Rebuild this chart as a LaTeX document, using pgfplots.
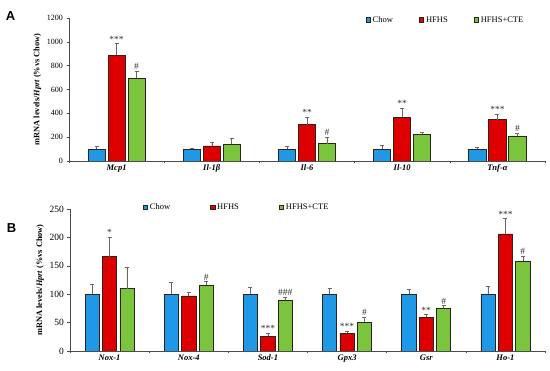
\documentclass[border=0pt]{standalone}
\usepackage{pgfplots}
\pgfplotsset{compat=1.18}
\usepackage{pgfplotstable}
\usepackage{fontspec}
\setmainfont{Liberation Serif}
\newfontfamily\arialfont{Liberation Sans}

\definecolor{chow}{RGB}{32,152,232}
\definecolor{hfhs}{RGB}{222,0,0}
\definecolor{cte}{RGB}{122,196,62}
\definecolor{edge}{RGB}{45,35,25}
\definecolor{errc}{RGB}{110,100,100}

\pgfplotstableread{
x chow chowe hfhs hfhse cte ctee hl cl
0 100 20 889 95 694 61 *** {\#}
1 100 10 126 31 140 50 {} {}
2 100 26 305 61 145 55 ** {\#}
3 100 30 369 73 224 17 ** {}
4 100 17 346 45 210 22 *** {\#}
}\tableA

\pgfplotstableread{
x chow chowe hfhs hfhse cte ctee hl cl
0 100 18 166 34 110 37 * {}
1 100 21 97 7 116 6 {} {\#}
2 100 13 26 6 89 6 *** {\#\#\#}
3 100 11 31 4 51 9 *** {\#}
4 100 9 59 5 75 5 ** {\#}
5 100 14 206 27 158 9 *** {\#}
}\tableB

\pgfplotsset{
  mybars/.style={
    ybar, bar width=0.18,
    scale only axis,
    axis x line=bottom, axis y line=left,
    axis line style={-, draw=black!70, line width=0.6pt},
    ymin=0,
    ytick align=outside,
    tick style={draw=black!70, line width=0.5pt},
    major tick length=2.5pt,
    xtick align=outside,
    xticklabels={},
    extra x tick style={major tick length=0pt},
    /pgf/number format/assume math mode=true,
    /pgf/number format/1000 sep={},
    ylabel={\bfseries mRNA levels/\textit{Hprt} (\%vs Chow)},
    ylabel style={font=\fontsize{8.3}{9}\selectfont, yshift=-1pt},
    x tick label style={font=\fontsize{8.5}{9}\selectfont\bfseries\itshape},
    legend columns=3,
    legend style={draw=none, fill=none, inner sep=0pt,
      font=\fontsize{8.5}{9}\selectfont},
    error bars/y dir=plus, error bars/y explicit,
    error bars/error bar style={draw=errc, line width=0.6pt},
    error bars/error mark options={rotate=90, mark size=2pt, draw=errc, line width=0.6pt},
  },
  sq/.style={legend image code/.code={\draw[##1, draw=edge, line width=0.6pt] (0pt,-2.2pt) rectangle (4.4pt,2.2pt);}},
  ann/.style={forget plot, draw=none, fill=none, bar shift=#1,
    nodes near coords, point meta=explicit symbolic,
    nodes near coords style={font=\fontsize{9.5}{9.5}\selectfont, inner sep=1.2pt, text=black!80}},
}

\begin{document}
\begin{tikzpicture}[x=1pt,y=1pt]
\useasboundingbox (0,0) rectangle (550,371);

\begin{axis}[mybars,
  at={(69pt,210pt)}, anchor=south west,
  width=476pt, height=143pt,
  xmin=-0.5, xmax=4.5, ymax=1200,
  ytick={0,200,...,1200},
  y tick label style={font=\fontsize{8}{9}\selectfont},
  xtick={-0.5,0.5,1.5,2.5,3.5,4.5},
  extra x ticks={0,1,2,3,4},
  extra x tick labels={Mcp1,Il-1β,Il-6,Il-10,Tnf-α},
  legend style={at={(0.623,0.986)}, anchor=west},
  legend style={/tikz/every even column/.append style={column sep=24pt}},
]
\addplot[sq, bar shift=-0.21, fill=chow, draw=edge, line width=0.7pt] table[x=x, y=chow, y error=chowe] {\tableA};
\addplot[sq, bar shift=0, fill=hfhs, draw=edge, line width=0.7pt] table[x=x, y=hfhs, y error=hfhse] {\tableA};
\addplot[sq, bar shift=0.21, fill=cte, draw=edge, line width=0.7pt] table[x=x, y=cte, y error=ctee] {\tableA};
\addplot[ann=0] table[x=x, y expr=\thisrow{hfhs}+\thisrow{hfhse}, meta=hl] {\tableA};
\addplot[ann=0.21] table[x=x, y expr=\thisrow{cte}+\thisrow{ctee}, meta=cl] {\tableA};
\legend{Chow,HFHS,HFHS+CTE}
\end{axis}

\begin{axis}[mybars,
  at={(70pt,20pt)}, anchor=south west,
  width=475pt, height=142pt,
  xmin=-0.5, xmax=5.5, ymax=250,
  ytick={0,50,...,250},
  y tick label style={font=\fontsize{9.5}{10}\selectfont},
  xtick={-0.5,0.5,1.5,2.5,3.5,4.5,5.5},
  extra x ticks={0,1,2,3,4,5},
  extra x tick labels={Nox-1,Nox-4,Sod-1,Gpx3,Gsr,Ho-1},
  legend style={at={(0.153,1.014)}, anchor=west},
  legend style={/tikz/every even column/.append style={column sep=38pt}},
]
\addplot[sq, bar shift=-0.22, fill=chow, draw=edge, line width=0.7pt] table[x=x, y=chow, y error=chowe] {\tableB};
\addplot[sq, bar shift=0, fill=hfhs, draw=edge, line width=0.7pt] table[x=x, y=hfhs, y error=hfhse] {\tableB};
\addplot[sq, bar shift=0.22, fill=cte, draw=edge, line width=0.7pt] table[x=x, y=cte, y error=ctee] {\tableB};
\addplot[ann=0] table[x=x, y expr=\thisrow{hfhs}+\thisrow{hfhse}, meta=hl] {\tableB};
\addplot[ann=0.22] table[x=x, y expr=\thisrow{cte}+\thisrow{ctee}, meta=cl] {\tableB};
\legend{Chow,HFHS,HFHS+CTE}
\end{axis}

\node[font=\arialfont\bfseries\fontsize{13}{13}\selectfont] at (10.5pt,354.5pt) {A};
\node[font=\arialfont\bfseries\fontsize{13}{13}\selectfont] at (11.5pt,143pt) {B};
\end{tikzpicture}
\end{document}
